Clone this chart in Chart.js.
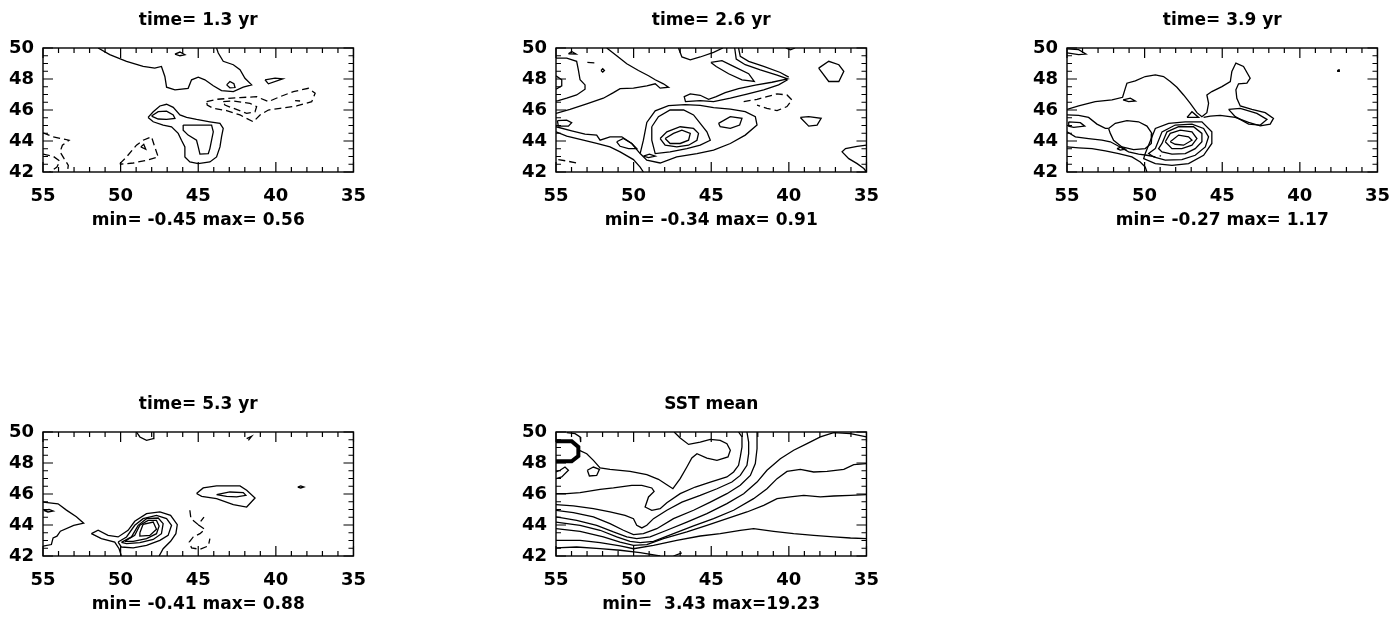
<!DOCTYPE html>
<html><head><meta charset="utf-8">
<script src="https://cdn.jsdelivr.net/npm/chart.js@4"></script>
<style>
html,body{margin:0;padding:0;background:#fff;overflow:hidden;width:1398px;height:621px}
#wrap{position:relative;width:1398px;height:621px;overflow:hidden}
canvas{position:absolute}
</style></head><body><div id="wrap"></div>
<script>
const titles = ["time= 1.3 yr","time= 2.6 yr","time= 3.9 yr","time= 5.3 yr","SST mean"];
const rangeLabels = ["min= -0.45 max= 0.56","min= -0.34 max= 0.91","min= -0.27 max= 1.17","min= -0.41 max= 0.88","min=  3.43 max=19.23"];
const lonTicks = [55,50,45,40,35];
const latTicks = [42,44,46,48,50];

// ---- panel 1 contours [lon, lat] ----
const p1_a = [[51.45,50],[50.7,49.57],[49.62,49.14],[48.55,48.81],[47.8,48.7],[47.37,48.81],[47.15,48.16],[47.04,47.47],[46.5,47.3],[45.65,47.4],[45.43,47.95],[45.0,48.12],[44.57,47.95],[44.03,47.56],[43.5,47.25],[42.74,47.19],[42.1,47.47],[41.56,47.62],[41.99,48.05],[42.31,48.6],[42.74,48.92],[43.39,49.14],[43.71,49.68],[43.82,50]];
const p1_t1 = [[46.5,49.6],[46.18,49.74],[45.86,49.57],[46.18,49.5],[46.5,49.6]];
const p1_t2 = [[43.17,47.62],[42.96,47.84],[42.7,47.69],[42.63,47.45],[42.96,47.43],[43.17,47.62]];
const p1_t3 = [[40.7,47.95],[40.05,48.05],[39.56,48.01],[40.48,47.69],[40.7,47.95]];
const p1_d1 = [[44.46,46.54],[43.82,46.69],[42.31,46.8],[41.24,46.86],[40.48,46.54],[39.73,46.86],[38.87,47.19],[37.9,47.4],[37.47,47.08],[37.69,46.54],[38.66,46.26],[39.73,46.11],[40.48,46.0],[41.02,45.68],[41.45,45.24],[42.31,45.68],[43.17,45.96],[44.03,46.11],[44.42,46.32],[44.46,46.54]];
const p1_d2 = [[43.39,46.54],[42.74,46.58],[41.67,46.43],[41.24,46.22],[41.34,45.89],[41.88,45.78],[42.74,46.11],[43.28,46.32],[43.39,46.54]];
const p1_d3 = [[38.76,46.6],[38.44,46.58]];
const p1_b = [[48.23,45.52],[47.9,45.89],[47.47,46.26],[47.04,46.37],[46.61,46.17],[46.18,45.68],[45.75,45.52],[45.11,45.39],[44.25,45.24],[43.6,45.14],[43.39,44.81],[43.5,44.27],[43.6,43.62],[43.82,42.97],[44.25,42.65],[45.0,42.54],[45.54,42.65],[45.86,42.97],[45.86,43.62],[46.08,44.05],[46.29,44.49],[46.72,44.92],[47.26,45.03],[47.9,45.24],[48.23,45.52]];
const p1_c = [[48.01,45.61],[47.58,45.89],[47.04,45.93],[46.61,45.68],[46.5,45.46],[47.04,45.39],[47.58,45.42],[48.01,45.61]];
const p1_e = [[45.97,45.03],[44.14,45.03],[44.03,44.59],[44.14,44.05],[44.25,43.51],[44.35,43.19],[44.89,43.15],[45.0,43.62],[45.11,44.05],[45.65,44.38],[45.97,44.7],[45.97,45.03]];
const p1_d4 = [[50.05,42.54],[49.62,42.97],[48.98,43.73],[48.55,44.05],[48.01,44.27],[47.8,43.62],[47.58,42.97],[48.33,42.76],[49.19,42.58],[50.05,42.5]];
const p1_f = [[48.7,43.62],[48.51,43.79],[48.38,43.47],[48.7,43.62]];
const p1_d5 = [[55,44.53],[54.35,44.27],[53.32,44.05],[53.75,43.73],[53.9,43.3],[53.64,42.86],[53.37,42.43],[53.43,42.0]];
const p1_d6 = [[55,43.15],[54.35,43.02],[53.92,42.71],[54.1,42.32],[54.57,42.0]];

// ---- panel 2 ----
const p2_a = [[54.2,49.63],[53.99,49.78],[53.71,49.61],[54.2,49.63]];
const p2_b = [[52.98,49.07],[52.38,49.03]];
const p2_c = [[52.1,48.55],[51.99,48.66],[51.88,48.55],[51.99,48.44],[52.1,48.55]];
const p2_d = [[55,49.35],[54.31,49.35],[53.67,49.14],[53.56,48.59],[53.45,47.95],[53.13,47.62],[53.13,47.34],[53.67,46.97],[54.31,46.76],[54.85,46.61],[55,46.58]];
const p2_d2 = [[55,48.2],[54.63,47.95],[54.63,47.56],[55,47.34]];
const p2_e = [[55,45.78],[54.1,46.04],[53.02,46.39],[51.95,46.76],[51.3,47.12],[50.87,47.38],[50.01,47.41],[49.15,47.56],[48.61,47.69],[48.29,47.41],[47.75,47.47],[48.08,47.69],[48.61,47.95],[49.04,48.21],[49.69,48.55],[50.44,48.98],[51.09,49.5],[51.73,50]];
const p2_f = [[47.11,50],[46.89,49.42],[46.35,49.24],[45.71,49.42],[44.85,49.72],[44.25,50]];
const p2_g = [[45.02,49.07],[44.31,49.18],[43.56,48.81],[42.59,48.34],[42.23,47.84],[43.02,47.95],[43.88,48.34],[44.68,48.81],[45.02,49.07]];
const p2_h1 = [[43.49,50],[43.39,49.29],[42.81,48.92],[41.84,48.59],[40.76,48.25],[40.08,48.01],[41.09,47.79],[42.16,47.6],[43.24,47.38],[44.1,47.12],[44.68,46.86],[45.17,46.69],[45.71,46.95],[46.35,47.04],[46.74,46.86],[46.66,46.54],[45.71,46.61],[44.85,46.54],[43.77,46.76],[42.7,47.02],[41.62,47.3],[40.66,47.62],[40.08,47.95]];
const p2_h2 = [[43.24,50],[43.13,49.46],[42.59,49.14],[41.62,48.81],[40.55,48.42],[40.01,48.12]];
const p2_i = [[42.91,46.54],[42.05,46.69],[41.41,46.86],[40.76,47.04],[40.12,46.97],[39.8,46.65],[40.12,46.22],[40.76,45.96],[41.41,46.11],[42.05,46.32]];
const p2_n1 = [[47.97,44.16],[47.43,44.49],[46.89,44.7],[46.35,44.49],[46.46,44.05],[47.0,43.84],[47.65,43.84],[47.97,44.16]];
const p2_n2 = [[48.29,44.16],[47.86,44.59],[47.0,44.92],[46.14,44.81],[45.82,44.49],[45.92,44.05],[46.46,43.73],[47.22,43.62],[47.97,43.73],[48.29,44.16]];
const p2_n3 = [[48.83,44.92],[48.4,45.57],[47.65,46.0],[46.78,46.0],[46.14,45.68],[45.71,45.14],[45.28,44.59],[45.06,44.05],[45.71,43.73],[46.57,43.51],[47.65,43.3],[48.61,43.19],[48.83,44.05],[48.83,44.92]];
const p2_j4 = [[49.58,43.19],[49.15,42.76],[48.29,42.58],[47.22,42.97],[45.92,43.19],[44.85,43.41],[43.77,43.84],[42.81,44.38],[42.05,45.03],[42.16,45.57],[42.81,45.89],[43.77,46.05],[44.85,46.15],[45.71,46.3],[46.68,46.35],[47.75,46.28],[48.61,45.95],[49.15,45.2],[49.37,44.05],[49.58,43.19]];
const p2_j5 = [[55,44.92],[53.99,44.66],[53.13,44.44],[52.38,44.38],[52.16,44.05],[51.52,44.27],[50.76,44.27],[50.12,43.84],[49.58,43.19]];
const p2_j6 = [[55,44.59],[54.31,44.31],[53.24,44.05],[52.38,43.84],[51.52,43.62],[50.87,43.3],[50.01,42.8],[49.58,42.32],[49.37,42]];
const p2_s1 = [[54.91,45.31],[54.31,45.35],[53.99,45.18],[54.2,44.96],[54.85,44.96],[54.91,45.31]];
const p2_s2 = [[51.09,43.95],[50.66,44.16],[50.12,43.84],[49.8,43.51],[50.33,43.51],[50.87,43.66],[51.09,43.95]];
const p2_s3 = [[49.37,43.02],[48.98,43.15],[48.61,43.02],[49.04,42.93],[49.37,43.02]];
const p2_s4 = [[44.53,45.14],[43.77,45.57],[43.02,45.46],[43.17,45.03],[43.77,44.81],[44.42,44.92],[44.53,45.14]];
const p2_s5 = [[39.26,45.52],[38.72,45.57],[37.92,45.46],[38.18,45.03],[38.72,44.96],[39.26,45.52]];
const p2_s6 = [[38.08,48.7],[37.43,49.14],[36.78,48.92],[36.46,48.49],[36.78,47.84],[37.43,47.84],[38.08,48.7]];
const p2_s7 = [[35,43.73],[35.6,43.66],[36.35,43.51],[36.57,43.3],[36.14,42.86],[35.6,42.54],[35.17,42.22],[35,42]];
const p2_s8 = [[40.2,50],[39.9,49.88],[39.6,50]];
const p2_s9 = [[54.85,42.8],[54.31,42.71],[53.67,42.58]];

// ---- panel 3 ----
const p3_a = [[55,49.94],[54.25,49.89],[53.78,49.61],[54.25,49.57],[55,49.68]];
const p3_b1 = [[55,46.04],[54.25,46.26],[53.18,46.54],[52.1,46.65],[51.42,46.82],[51.24,47.41],[51.14,47.73],[50.6,47.88],[49.96,48.16],[49.31,48.27],[48.78,48.16],[48.35,47.84],[47.92,47.47],[47.49,46.97],[47.06,46.43],[46.63,45.83],[46.31,45.57],[45.99,45.83],[45.88,46.43],[45.99,46.97],[45.67,47.19],[45.02,47.51],[44.48,47.84],[44.38,48.49],[44.12,49.03],[43.63,48.81],[43.2,48.05],[43.41,47.73],[43.95,47.69],[44.12,47.3],[44.06,46.76],[43.84,46.26],[43.09,46.04],[42.23,45.83],[41.7,45.46],[41.91,45.09],[42.55,44.98],[43.3,45.2],[44.16,45.52],[45.13,45.65],[45.77,45.61],[46.2,45.52]];
const p3_s1 = [[51.39,46.65],[50.92,46.76],[50.6,46.58],[51.03,46.54],[51.39,46.65]];
const p3_s2 = [[47.27,45.52],[46.95,45.89],[46.52,45.52],[47.27,45.52]];
const p3_s3 = [[44.59,46.04],[43.84,46.11],[42.77,45.78],[42.12,45.39],[42.55,45.03],[43.3,45.09],[44.16,45.57],[44.59,46.04]];
const p3_c1 = [[54.89,45.24],[54.14,45.18],[53.86,44.96],[54.57,44.88],[54.89,44.96],[54.89,45.24]];
const p3_c0 = [[55,45.68],[54.25,45.65],[53.61,45.52],[53.07,45.09],[52.53,44.81],[52.32,44.81]];
const p3_c2 = [[55,44.59],[54.46,44.27],[53.61,44.16],[52.75,44.05],[52.21,43.95],[51.67,43.66],[51.03,43.3],[50.39,43.15],[49.85,43.08],[49.31,42.97]];
const p3_c3 = [[55,43.62],[54.25,43.56],[53.39,43.51],[52.53,43.36],[51.67,43.19],[50.82,42.97],[50.28,42.65],[49.96,42.32],[49.85,42]];
const p3_c4 = [[52.32,44.81],[51.89,45.14],[51.14,45.31],[50.39,45.24],[49.85,44.96],[49.53,44.49],[49.57,43.84],[49.96,43.51],[50.71,43.45],[51.46,43.62],[52.0,44.05],[52.21,44.49],[52.32,44.81]];
const p3_n1 = [[48.35,43.95],[47.81,44.38],[47.17,44.27],[46.95,44.05],[47.49,43.73],[48.03,43.79],[48.35,43.95]];
const p3_n2 = [[48.67,43.95],[48.35,44.49],[47.7,44.7],[46.95,44.59],[46.63,44.16],[46.95,43.73],[47.6,43.51],[48.24,43.51],[48.67,43.95]];
const p3_n3 = [[48.88,43.84],[48.56,44.59],[47.81,44.92],[46.85,44.92],[46.31,44.49],[46.31,43.95],[46.74,43.51],[47.38,43.19],[48.24,43.15],[48.88,43.3],[49.1,43.51],[48.88,43.84]];
const p3_n4 = [[49.31,43.51],[48.88,44.59],[48.03,45.03],[46.95,45.09],[46.2,44.81],[45.88,44.27],[46.09,43.62],[46.74,43.08],[47.6,42.8],[48.67,42.76],[49.42,42.97],[49.74,43.19],[49.31,43.51]];
const p3_n5 = [[49.96,43.19],[49.31,44.81],[48.45,45.14],[47.38,45.24],[46.31,45.24],[45.67,44.59],[45.67,43.84],[46.2,43.08],[47.17,42.54],[48.24,42.43],[49.31,42.54],[50.06,42.86],[49.96,43.19]];
const p3_s4 = [[51.78,43.51],[51.5,43.62],[51.24,43.47],[51.57,43.41],[51.78,43.51]];
const p3_s5 = [[49.03,43.06],[48.95,43.02]];
const p3_s6 = [[37.56,48.58],[37.46,48.58],[37.46,48.5],[37.56,48.5],[37.56,48.58]];

// ---- panel 4 ----
const p4_a = [[48.98,50],[48.76,49.68],[48.33,49.46],[47.9,49.57],[47.86,50]];
const p4_b = [[41.88,49.57],[41.56,49.72],[41.77,49.46]];
const p4_c = [[45.11,46.03],[44.68,46.39],[43.82,46.52],[42.31,46.52],[41.88,46.24],[41.34,45.74],[41.88,45.16],[42.74,45.31],[43.82,45.7],[44.78,45.85],[45.11,46.03]];
const p4_c2 = [[43.82,45.96],[42.96,46.13],[42.1,46.09],[41.93,45.91],[42.53,45.81],[43.17,45.85],[43.82,45.96]];
const p4_d = [[38.59,46.45],[38.4,46.52],[38.2,46.45],[38.4,46.39],[38.59,46.45]];
const p4_e = [[55,45.48],[54.03,45.37],[53.49,44.96],[52.85,44.53],[52.38,44.12],[53.02,43.98],[53.88,43.6],[54.1,43.28],[54.35,43.17],[54.46,42.74],[55,42.63]];
const p4_e2 = [[54.96,44.94],[54.61,45.0],[54.35,44.9],[54.68,44.84],[54.96,44.94]];
const p4_f1 = [[51.88,43.44],[51.45,43.66],[50.81,43.33],[50.16,43.23],[49.52,43.66],[49.09,44.24],[48.33,44.73],[47.47,44.84],[46.78,44.62],[46.35,44.02],[46.44,43.44],[46.78,42.95],[47.26,42.47],[47.52,42.0]];
const p4_f1b = [[51.88,43.44],[51.24,43.12],[50.38,42.9],[50.1,42.47],[49.95,42.0]];
const p4_f2 = [[50.16,42.9],[49.62,43.23],[49.09,43.98],[48.55,44.41],[47.69,44.62],[47.04,44.41],[46.72,43.98],[46.94,43.33],[47.47,43.01],[48.33,42.69],[49.19,42.52],[49.95,42.58],[50.16,42.9]];
const p4_f3 = [[49.95,42.88],[49.3,43.23],[48.87,43.98],[48.33,44.41],[47.58,44.45],[47.26,44.09],[47.37,43.44],[47.9,43.07],[48.76,42.86],[49.62,42.8],[49.95,42.88]];
const p4_f4 = [[49.73,42.95],[49.09,43.33],[48.76,43.98],[48.23,44.3],[47.69,44.3],[47.52,43.94],[47.69,43.44],[48.33,43.12],[49.19,42.95],[49.73,42.95]];
const p4_f5 = [[48.76,43.5],[48.55,44.04],[47.9,44.19],[47.69,43.72],[48.12,43.33],[48.76,43.28],[48.76,43.5]];
const p4_g1 = [[45.54,44.95],[45.47,44.41],[45.0,44.02],[44.63,44.51]];
const p4_g2 = [[45.0,44.02],[44.57,43.72],[44.89,43.44],[45.32,43.23],[45.58,42.9],[45.43,42.52],[44.89,42.43],[44.35,42.65],[44.25,43.12]];

// ---- panel 5 (SST mean) ----
const p5_D = [[55,49.4],[53.99,49.4],[53.56,49.03],[53.56,48.45],[53.99,48.11],[55,48.11]];
const p5_b = [[54.31,49.96],[53.77,49.89],[53.45,49.68],[53.41,49.35]];
const p5_b2 = [[55,47.42],[54.74,47.53],[54.42,47.74],[54.2,47.53],[54.63,47.1],[55,46.99]];
const p5_c = [[53.49,48.82],[53.02,48.6],[52.59,48.17],[52.16,47.68],[51.52,47.59],[50.23,47.46],[49.15,47.25],[48.4,46.95],[47.86,46.6],[47.47,46.34],[47.0,46.99],[46.57,47.74],[46.25,48.32],[45.92,48.6],[45.28,48.32],[44.63,48.17],[43.92,48.39],[43.77,48.82],[43.99,49.25],[44.42,49.46],[45.06,49.53],[45.71,49.35],[46.46,49.2],[47.0,49.61],[47.39,50]];
const p5_c2 = [[52.98,47.53],[52.59,47.74],[52.2,47.59],[52.38,47.2],[52.85,47.16],[52.98,47.53]];
const p5_d = [[55,46.02],[54.31,46.02],[53.45,46.09],[52.16,46.3],[51.3,46.39],[50.12,46.56],[49.47,46.56],[48.83,46.39],[48.68,46.17],[49.04,45.81],[49.26,45.16],[48.83,44.95],[48.29,45.05],[47.86,45.44],[47.0,46.02],[46.03,46.45],[45.06,46.77],[43.99,47.1],[43.56,47.42],[43.24,47.85],[43.13,48.39],[43.02,49.03],[43.02,49.68],[43.24,50]];
const p5_e = [[55,45.31],[53.88,45.23],[52.59,45.05],[51.52,44.84],[50.55,44.62],[50.01,44.41],[49.8,43.98],[49.47,43.81],[49.15,43.98],[48.72,44.41],[47.86,44.95],[46.89,45.48],[45.71,45.91],[44.63,46.34],[43.67,46.77],[43.13,47.2],[42.7,47.85],[42.59,48.6],[42.59,49.35],[42.7,50]];
const p5_f = [[55,44.95],[53.88,44.8],[52.59,44.52],[51.52,44.09],[50.66,43.66],[50.01,43.38],[49.37,43.44],[48.51,43.76],[47.43,44.41],[46.14,44.95],[45.06,45.48],[43.99,46.02],[43.13,46.56],[42.48,47.2],[42.16,47.96],[42.05,48.92],[42.05,50]];
const p5_g = [[55,44.52],[53.67,44.3],[52.38,43.98],[51.3,43.55],[50.44,43.23],[49.8,43.12],[48.94,43.23],[47.86,43.66],[46.57,44.19],[45.28,44.73],[43.99,45.38],[42.91,46.02],[42.05,46.77],[41.41,47.53],[40.55,48.28],[39.69,48.82],[38.83,49.25],[37.97,49.68],[37.11,49.96],[36.03,49.89],[35,49.68]];
const p5_h = [[55,44.19],[53.45,43.98],[52.16,43.66],[51.09,43.23],[50.23,42.95],[49.58,42.86],[48.72,42.95],[47.43,43.44],[46.14,43.94],[44.85,44.41],[43.56,44.95],[42.27,45.7],[41.41,46.34],[40.76,46.99],[40.12,47.46],[39.26,47.59],[38.4,47.42],[37.54,47.46],[36.46,47.59],[35.82,47.89],[35,47.96]];
const p5_i = [[55,43.76],[53.45,43.59],[51.95,43.23],[50.87,42.9],[50.01,42.69],[49.15,42.73],[48.08,43.12],[46.57,43.55],[45.28,43.98],[43.99,44.41],[42.7,44.84],[41.62,45.27],[40.76,45.7],[39.9,45.81],[39.04,45.91],[37.97,45.81],[37.11,45.87],[36.03,45.91],[35,45.96]];
const p5_j = [[55,43.01],[53.45,43.01],[52.16,42.86],[50.87,42.65],[50.01,42.47],[48.72,42.69],[47.22,43.01],[45.71,43.29],[44.42,43.44],[43.13,43.66],[42.27,43.76],[40.98,43.59],[39.69,43.44],[38.4,43.33],[37.11,43.23],[36.03,43.16],[35,43.12]];
const p5_k = [[55,42.52],[53.67,42.58],[52.16,42.47],[50.87,42.37],[49.58,42.22],[48.51,42.04],[48.29,42]];
const p5_l = [[47.43,42],[46.9,42.2]];

const S = (d) => ({d});
const D = (d) => ({d, dash:true});
const panelLines = [
  [S(p1_a),S(p1_t1),S(p1_t2),S(p1_t3),D(p1_d1),D(p1_d2),D(p1_d3),S(p1_b),S(p1_c),S(p1_e),D(p1_d4),S(p1_f),D(p1_d5),D(p1_d6)],
  [S(p2_a),D(p2_b),S(p2_c),S(p2_d),S(p2_d2),S(p2_e),S(p2_f),S(p2_g),S(p2_h1),S(p2_h2),D(p2_i),S(p2_n1),S(p2_n2),S(p2_n3),S(p2_j4),S(p2_j5),S(p2_j6),S(p2_s1),S(p2_s2),S(p2_s3),S(p2_s4),S(p2_s5),S(p2_s6),S(p2_s7),S(p2_s8),D(p2_s9)],
  [S(p3_a),S(p3_b1),S(p3_s1),S(p3_s2),S(p3_s3),S(p3_c1),S(p3_c0),S(p3_c2),S(p3_c3),S(p3_c4),S(p3_n1),S(p3_n2),S(p3_n3),S(p3_n4),S(p3_n5),S(p3_s4),S(p3_s5),S(p3_s6)],
  [S(p4_a),S(p4_b),S(p4_c),S(p4_c2),S(p4_d),S(p4_e),S(p4_e2),S(p4_f1),S(p4_f1b),S(p4_f2),S(p4_f3),S(p4_f4),S(p4_f5),D(p4_g1),D(p4_g2)],
  [{d:p5_D, w:4},S(p5_b),S(p5_b2),S(p5_c),S(p5_c2),S(p5_d),S(p5_e),S(p5_f),S(p5_g),S(p5_h),S(p5_i),S(p5_j),S(p5_k),S(p5_l)]
];

// layout (canvas positions)
const slots = [[0,0],[513,0],[1024,0],[0,384],[513,384]];
const CW = 380, CH = 240;
const FONT = 'DejaVu Sans';

const frame = {
  id:'frame',
  afterDraw(chart){
    const {ctx, chartArea:a, scales:{x,y}} = chart;
    ctx.save();
    ctx.strokeStyle = '#000';
    ctx.lineWidth = 1.4;
    ctx.strokeRect(a.left, a.top, a.right-a.left, a.bottom-a.top);
    ctx.lineWidth = 1.2;
    ctx.beginPath();
    const x0 = Math.min(...lonTicks), x1 = Math.max(...lonTicks);
    for (let v = x0; v <= x1; v += 1) {
      const px = x.getPixelForValue(v);
      const L = (v % 5 === 0) ? 10 : 5;
      ctx.moveTo(px, a.bottom); ctx.lineTo(px, a.bottom - L);
      ctx.moveTo(px, a.top); ctx.lineTo(px, a.top + L);
    }
    const y0 = Math.min(...latTicks), y1 = Math.max(...latTicks);
    for (let v = y0; v <= y1 + 1e-9; v += 0.5) {
      const py = y.getPixelForValue(v);
      const L = (Math.abs(v % 2) < 1e-9) ? 10 : 5;
      ctx.moveTo(a.left, py); ctx.lineTo(a.left + L, py);
      ctx.moveTo(a.right, py); ctx.lineTo(a.right - L, py);
    }
    ctx.stroke();
    ctx.restore();
  }
};

const wrap = document.getElementById('wrap');
for (let i = 0; i < 5; i++) {
  const cv = document.createElement('canvas');
  cv.width = CW; cv.height = CH;
  cv.style.left = slots[i][0] + 'px';
  cv.style.top = slots[i][1] + 'px';
  cv.style.width = CW + 'px'; cv.style.height = CH + 'px';
  wrap.appendChild(cv);
  new Chart(cv, {
    type: 'scatter',
    data: {
      datasets: panelLines[i].map(l => ({
        data: l.d.map(([x, y]) => ({x, y})),
        showLine: true,
        borderColor: '#000',
        backgroundColor: '#000',
        borderWidth: l.w || 1.3,
        borderDash: l.dash ? [7, 4] : [],
        pointRadius: 0,
        pointHoverRadius: 0,
        tension: 0,
        fill: false
      }))
    },
    options: {
      responsive: false,
      animation: false,
      devicePixelRatio: 1,
      events: [],
      layout: {padding: {left: 0, right: 26, top: 0, bottom: 0}},
      plugins: {
        legend: {display: false},
        tooltip: {enabled: false},
        title: {
          display: true, text: titles[i], fullSize: false, color: '#000',
          font: {family: FONT, weight: 'bold', size: 17, lineHeight: 1.2},
          padding: {top: 10.5, bottom: 17.1}
        }
      },
      scales: {
        x: {
          type: 'linear', reverse: true, min: 35, max: 55,
          afterBuildTicks: s => { s.ticks = lonTicks.map(v => ({value: v})); },
          afterFit: s => { s.height = 68; },
          grid: {display: false, drawTicks: false},
          border: {display: false},
          ticks: {color: '#000', font: {family: FONT, weight: 'bold', size: 18}, padding: 14, maxRotation: 0, autoSkip: false},
          title: {display: true, text: rangeLabels[i], color: '#000',
            font: {family: FONT, weight: 'bold', size: 17, lineHeight: 1.2},
            padding: {top: 0, bottom: 9.3}}
        },
        y: {
          type: 'linear', min: 42, max: 50,
          afterBuildTicks: s => { s.ticks = latTicks.map(v => ({value: v})); },
          afterFit: s => { s.width = 43; },
          grid: {display: false, drawTicks: false},
          border: {display: false},
          ticks: {color: '#000', font: {family: FONT, weight: 'bold', size: 18}, padding: 9, autoSkip: false}
        }
      }
    },
    plugins: [frame]
  });
}
</script></body></html>
